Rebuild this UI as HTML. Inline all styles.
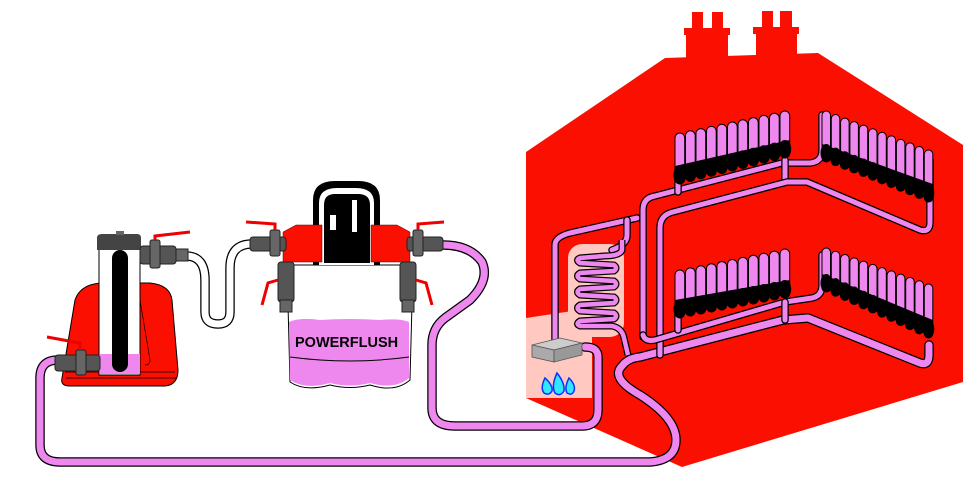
<!DOCTYPE html>
<html><head><meta charset="utf-8"><style>
html,body{margin:0;padding:0;background:#fff;width:980px;height:490px;overflow:hidden}
svg{display:block}
</style></head><body>
<svg id="s" width="980" height="490" viewBox="0 0 980 490" xmlns="http://www.w3.org/2000/svg">
<g fill="#fb0f00">
<rect x="692" y="12" width="11" height="20"/><rect x="712" y="12" width="11" height="20"/>
<rect x="684" y="28" width="46" height="7"/><rect x="686" y="34" width="42" height="24"/>
<rect x="762" y="11" width="11" height="18"/><rect x="780" y="11" width="12" height="18"/>
<rect x="753" y="27" width="46" height="7"/><rect x="756" y="33" width="41" height="24"/>
<polygon points="526,152 665,58 818,53 963,145 963,382 682,467 526,398"/>
</g>
<polygon points="526,318 592,308 592,398 526,398" fill="#ffc8c0"/>
<rect x="568" y="244" width="56" height="93" rx="14" fill="#ffc8c0"/>
<g id="pipes" fill="none" stroke-linecap="round" stroke-linejoin="round"></g>
<g id="rads"></g>
<path d="M622,240 L622,250 Q620,256 604,256 L580,258 Q575,260 580,263 L614,265 Q618,268 614,271 L580,273 Q575,276 580,279 L614,281 Q618,284 614,287 L580,289 Q575,292 580,295 L614,297 Q618,300 614,303 L580,305 Q575,308 580,311 L614,313 Q618,316 614,319 L580,321 Q575,324 580,326 L612,326 Q622,328 624,338 L628,355" fill="none" stroke="#000" stroke-width="7"/>
<path d="M622,240 L622,250 Q620,256 604,256 L580,258 Q575,260 580,263 L614,265 Q618,268 614,271 L580,273 Q575,276 580,279 L614,281 Q618,284 614,287 L580,289 Q575,292 580,295 L614,297 Q618,300 614,303 L580,305 Q575,308 580,311 L614,313 Q618,316 614,319 L580,321 Q575,324 580,326 L612,326 Q622,328 624,338 L628,355" fill="none" stroke="#ee88ee" stroke-width="4.5"/>
<polygon points="532,345 560,338 582,343 554,350" fill="#ccc" stroke="#555" stroke-width="0.8"/>
<polygon points="532,345 554,350 554,362 532,357" fill="#aaa" stroke="#555" stroke-width="0.8"/>
<polygon points="554,350 582,343 582,355 554,362" fill="#999" stroke="#555" stroke-width="0.8"/>
<g stroke="#1030ff" stroke-width="1.5" fill="#30e8ff">
<path d="M545,378 Q540,388 544,393 Q549,396 552,391 Q553,385 545,378Z"/>
<path d="M557,373 Q551,386 555,393 Q560,397 564,391 Q565,383 557,373Z"/>
<path d="M569,378 Q564,388 567,393 Q572,396 574,391 Q576,385 569,378Z"/>
</g>
<path d="M62,378 L75,300 Q80,285 100,283 L150,283 Q170,285 172,300 L178,370 Q178,385 165,386 L70,386 Q60,386 62,378Z" fill="#fb0f00" stroke="#000" stroke-width="1"/>
<path d="M65,372 L175,372 M66,378 L176,378" stroke="#000" stroke-width="0.8"/>
<path d="M140,300 L150,360 Q150,365 145,365" fill="none" stroke="#000" stroke-width="0.7"/>
<rect x="99" y="246" width="41" height="129" fill="#fff" stroke="#000" stroke-width="1"/>
<rect x="100" y="354" width="40" height="20" fill="#ee88ee"/>
<rect x="112" y="250" width="16" height="122" rx="8" fill="#000"/>
<path d="M97,250 L97,238 Q97,234 102,234 L137,234 Q141,234 141,238 L141,250Z" fill="#444"/>
<rect x="116" y="231" width="8" height="4" fill="#666"/>
<rect x="140" y="246" width="36" height="18" rx="3" fill="#555" stroke="#222"/>
<rect x="150" y="240" width="10" height="28" rx="2" fill="#666" stroke="#222"/>
<rect x="176" y="249" width="12" height="12" fill="#666" stroke="#222"/>
<path d="M155,240 L155,236 L190,232" stroke="#e00" stroke-width="3" fill="none"/>
<rect x="55" y="355" width="45" height="16" rx="3" fill="#555" stroke="#222"/>
<rect x="76" y="350" width="10" height="25" rx="2" fill="#666" stroke="#222"/>
<path d="M80,350 L80,343 L47,337" stroke="#e00" stroke-width="3" fill="none"/>
<path d="M287,265 L413,265 L410,380 Q395,393 370,385 Q350,390 330,385 Q305,392 290,382Z" fill="#fff" stroke="#000" stroke-width="1"/>
<path d="M289,322 Q300,317 320,320 Q350,318 380,320 Q400,318 409,322 L409,378 Q395,390 370,383 Q350,388 330,383 Q305,390 290,380Z" fill="#ee88ee"/>
<path d="M290,357 Q350,365 409,357" stroke="#000" stroke-width="1" fill="none"/>
<text x="295" y="347" font-family="Liberation Sans, sans-serif" font-weight="bold" font-size="14.5" fill="#000">POWERFLUSH</text>
<path d="M313,265 L313,200 Q313,181 335,181 L358,181 Q380,181 380,200 L380,265Z" fill="#000"/>
<path d="M319,265 L319,203 Q319,188 337,188 L356,188 Q374,188 374,203 L374,265Z" fill="#fff"/>
<path d="M324,263 L324,205 Q324,194 335,194 L358,194 Q370,194 370,205 L370,263Z" fill="#000"/>
<rect x="330" y="215" width="6" height="15" fill="#fff"/><rect x="352" y="200" width="5" height="32" fill="#fff"/>
<polygon points="283,232 296,225 322,225 322,262 283,262" fill="#fb0f00" stroke="#600" stroke-width="0.5"/>
<polygon points="410,232 397,225 371,225 371,262 410,262" fill="#fb0f00" stroke="#600" stroke-width="0.5"/>
<rect x="250" y="237" width="36" height="14" rx="3" fill="#555" stroke="#222"/>
<rect x="270" y="230" width="10" height="26" rx="2" fill="#666" stroke="#222"/>
<path d="M275,230 L275,224 L246,222" stroke="#e00" stroke-width="3" fill="none"/>
<rect x="407" y="237" width="36" height="14" rx="3" fill="#555" stroke="#222"/>
<rect x="413" y="230" width="10" height="26" rx="2" fill="#666" stroke="#222"/>
<path d="M418,230 L418,224 L444,222" stroke="#e00" stroke-width="3" fill="none"/>
<rect x="278" y="262" width="16" height="40" rx="3" fill="#555" stroke="#222"/>
<rect x="280" y="300" width="12" height="12" fill="#666" stroke="#222"/>
<path d="M278,280 L268,283 L262,305" stroke="#e00" stroke-width="3" fill="none"/>
<rect x="400" y="262" width="16" height="40" rx="3" fill="#555" stroke="#222"/>
<rect x="402" y="300" width="12" height="12" fill="#666" stroke="#222"/>
<path d="M416,280 L426,283 L432,305" stroke="#e00" stroke-width="3" fill="none"/>
</svg>
<script>
var NS="http://www.w3.org/2000/svg";
var pipes=document.getElementById("pipes");
function pipe(d,col,w){
 var a=document.createElementNS(NS,"path");a.setAttribute("d",d);a.setAttribute("stroke","#000");a.setAttribute("stroke-width",w+2.5);pipes.appendChild(a);
 var b=document.createElementNS(NS,"path");b.setAttribute("d",d);b.setAttribute("stroke",col);b.setAttribute("stroke-width",w);pipes.appendChild(b);
}
var P="#ee88ee";
pipe("M186,256 Q205,256 205,280 L205,312 Q205,324 218,324 Q230,324 230,312 L230,268 Q230,244 252,244","#fff",7);
pipe("M58,360 Q40,360 40,378 L40,445 Q40,462 60,462 L650,462 Q676,460 676,440 Q676,418 640,395 Q610,378 622,366 Q628,358 640,357 L783,320 L808,318 L920,363 Q929,366 929,355 L929,345",P,7);
pipe("M443,245 Q470,245 482,262 Q490,280 470,300 L445,318 Q432,328 432,345 L432,408 Q432,426 455,426 L582,426 Q598,426 598,410 L598,357 Q598,347 585,347",P,7);
pipe("M555,340 L555,245 Q555,237 570,233 L637,218",P,5);
pipe("M627,220 L627,235 Q627,245 612,250",P,5);
pipe("M643,337 L643,210 Q643,198 655,196 L782,163 L810,163 Q822,162 822,150 L822,115",P,5);
pipe("M785,160 L785,182",P,5);
pipe("M660,355 L660,228 Q660,215 673,212 L787,182 L807,182 L920,230 Q930,233 930,222 L930,160",P,5);
pipe("M643,335 Q645,342 655,340 L785,302 L812,298 Q822,296 822,285 L822,255",P,5);
pipe("M785,302 L785,320",P,5);
pipe("M678,192 L678,170",P,5);pipe("M678,330 L678,310",P,5);
var rads=document.getElementById("rads");
function el(n,at){var e=document.createElementNS(NS,n);for(var k in at)e.setAttribute(k,at[k]);rads.appendChild(e);return e;}
function rad(x0,step,n,t0,t1,b0,b1){
 var w=step-0.8;
 for(var i=0;i<n;i++){var f=i/(n-1),x=x0+i*step,t=t0+(t1-t0)*f,b=b0+(b1-b0)*f;
  el("rect",{x:x,y:t,width:w,height:b-t,rx:w/2,fill:P,stroke:"#000","stroke-width":1});}
 for(var i=0;i<n;i++){var f=i/(n-1),x=x0+i*step,b=b0+(b1-b0)*f;
  el("ellipse",{cx:x+w/2,cy:b-9,rx:w/2+1.5,ry:9,fill:"#000"});}
 el("polygon",{points:(x0)+","+(b0-18)+" "+(x0+(n-1)*step+w)+","+(b1-18)+" "+(x0+(n-1)*step+w)+","+(b1-8)+" "+x0+","+(b0-8),fill:"#000"});
}
rad(675,10.5,11,133,111,184,158);
rad(822,9.3,12,111,150,162,202);
rad(675,10.5,11,270,249,318,298);
rad(822,9.3,12,248,284,292,338);
</script>
</body></html>
